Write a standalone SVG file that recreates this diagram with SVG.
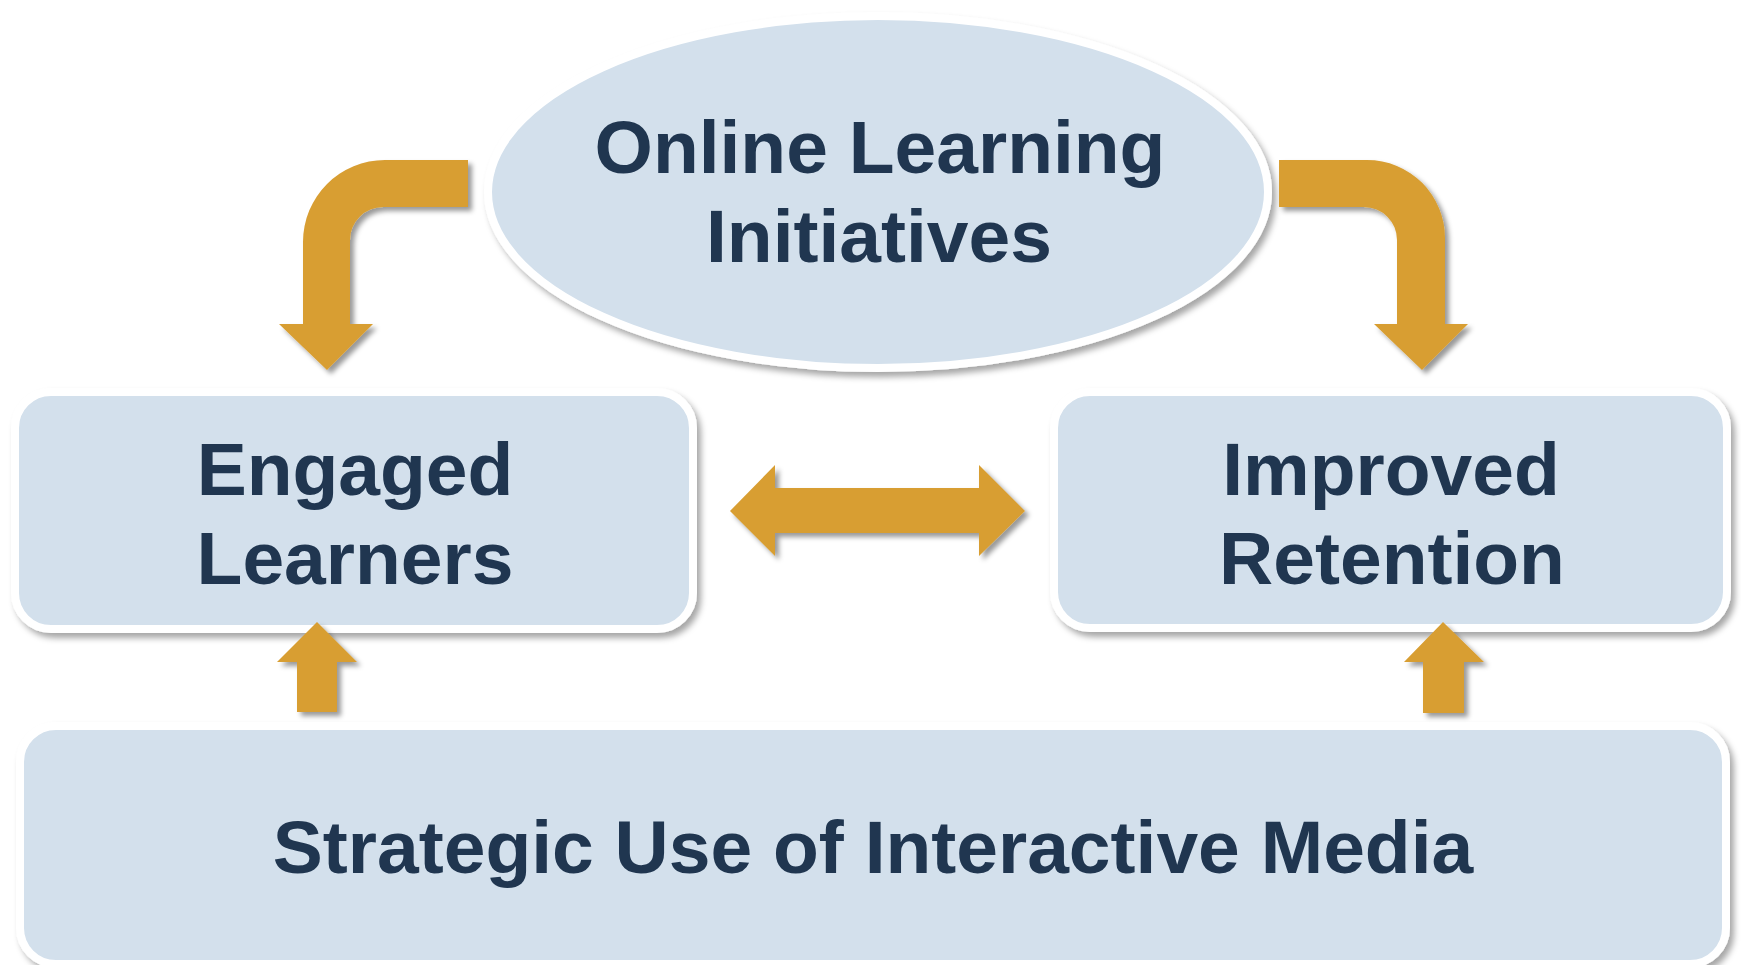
<svg xmlns="http://www.w3.org/2000/svg" width="1741" height="965" viewBox="0 0 1741 965">
<defs>
<filter id="sh" x="-10%" y="-10%" width="130%" height="130%">
<feDropShadow dx="4" dy="5" stdDeviation="3" flood-color="#000" flood-opacity="0.35"/>
</filter>
<filter id="sha" x="-20%" y="-20%" width="150%" height="150%">
<feDropShadow dx="4" dy="4" stdDeviation="2.5" flood-color="#000" flood-opacity="0.4"/>
</filter>
</defs>
<style>
.node{fill:#D3E0EC;stroke:#FFFFFF;stroke-width:8;filter:url(#sh)}
.lbl{font-family:"Liberation Sans",Arial,sans-serif;font-weight:bold;font-size:75px;fill:#203650;text-anchor:middle}
.arr{fill:#D89E33;filter:url(#sha)}
</style>
<rect width="1741" height="965" fill="#FFFFFF"/>
<g id="online-learning">
<ellipse class="node" cx="878" cy="192" rx="390" ry="176"/>
<text class="lbl" x="880" y="173">Online Learning</text>
<text class="lbl" x="879" y="262">Initiatives</text>
</g>
<g id="engaged-learners">
<rect class="node" x="15" y="392" width="678" height="237" rx="36"/>
<text class="lbl" x="355" y="495">Engaged</text>
<text class="lbl" x="355" y="584">Learners</text>
</g>
<g id="improved-retention">
<rect class="node" x="1054" y="392" width="673" height="236" rx="36"/>
<text class="lbl" x="1391" y="495">Improved</text>
<text class="lbl" x="1392" y="584">Retention</text>
</g>
<g id="strategic-use">
<rect class="node" x="20" y="726" width="1706" height="238" rx="36"/>
<text class="lbl" x="873" y="873">Strategic Use of Interactive Media</text>
</g>
<g id="connectors">
<path class="arr" d="M468,160 L385,160 A82,82 0 0 0 303,242 L303,324 L279,324 L327,370 L373,324 L350,324 L350,240 A33,33 0 0 1 383,207 L468,207 Z"/>
<path class="arr" d="M1279,160 L1367,160 A78,78 0 0 1 1445,238 L1445,324 L1468,324 L1422,370 L1374,324 L1397,324 L1397,240 A33,33 0 0 0 1364,207 L1279,207 Z"/>
<path class="arr" d="M730,511 L775,465 L775,488 L979,488 L979,465 L1025,511 L979,556 L979,533 L775,533 L775,556 Z"/>
<path class="arr" d="M317,622 L357,662 L337,662 L337,712 L297,712 L297,662 L277,662 Z"/>
<path class="arr" d="M1443,622 L1484,662 L1464,662 L1464,713 L1423,713 L1423,662 L1404,662 Z"/>
</g>
</svg>
